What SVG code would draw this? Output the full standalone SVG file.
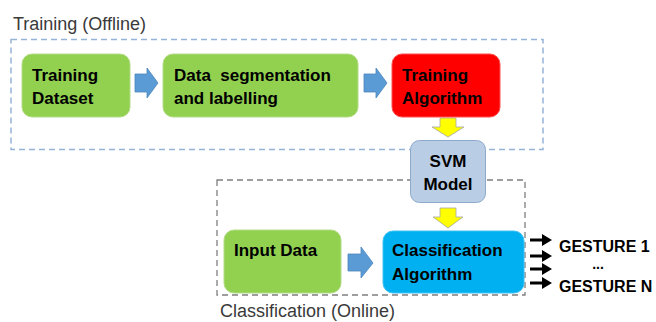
<svg xmlns="http://www.w3.org/2000/svg" width="656" height="322" viewBox="0 0 656 322">
<style>
.lbl{font-family:"Liberation Sans",Arial,sans-serif;font-size:18px;fill:#3a3a3a}
.t{font-family:"Liberation Sans",Arial,sans-serif;font-size:17px;font-weight:bold;fill:#000}
.g{font-size:16px}
.green{fill:#92D050;stroke:#b3dc86;stroke-width:1}
.barrow{fill:#5B9BD5;stroke:#4a86bd;stroke-width:0.8}
.yarrow{fill:#FFFF00;stroke:#a6a6a6;stroke-width:0.8}
.karrow{fill:#000}
</style>
<rect width="656" height="322" fill="#fff"/>
<g id="training-group">
<rect x="11" y="39.5" width="532" height="110" fill="none" stroke="#95B3D7" stroke-width="1.5" stroke-dasharray="6,4"/>
<text class="lbl" x="13" y="30">Training (Offline)</text>
</g>
<g id="classification-group">
<rect x="217" y="180" width="308" height="115" fill="none" stroke="#7f7f7f" stroke-width="1.3" stroke-dasharray="6,4"/>
<text class="lbl" x="220" y="317">Classification (Online)</text>
</g>
<g id="connectors">
<polygon class="barrow" points="135,74 147,74 147,68 158,83 147,98 147,92 135,92"/>
<polygon class="barrow" points="364,74 376,74 376,68 387,83 376,98 376,92 364,92"/>
<polygon class="barrow" points="348,254 361,254 361,247 373,263 361,278 361,271 348,271"/>
<polygon class="yarrow" points="440,118 456,118 456,127 464,127 448,137 432,127 440,127"/>
<polygon class="yarrow" points="440,208 456,208 456,217 463,217 448,228 433,217 440,217"/>
<polygon class="karrow" points="530,238.5 542,238.5 542,234 552,240 542,246 542,241.5 530,241.5"/>
<polygon class="karrow" points="530,254.5 542,254.5 542,250 552,256 542,262 542,257.5 530,257.5"/>
<polygon class="karrow" points="530,267.5 542,267.5 542,263 552,269 542,275 542,270.5 530,270.5"/>
<polygon class="karrow" points="530,281.5 542,281.5 542,277 552,283 542,289 542,284.5 530,284.5"/>
</g>
<g id="training-dataset">
<rect class="green" x="22" y="54" width="108" height="63" rx="10"/>
<text class="t" x="32" y="81">Training</text>
<text class="t" x="32" y="104">Dataset</text>
</g>
<g id="data-segmentation">
<rect class="green" x="163" y="54" width="195" height="63" rx="10"/>
<text class="t" x="174" y="81" xml:space="preserve">Data  segmentation</text>
<text class="t" x="174" y="104">and labelling</text>
</g>
<g id="training-algorithm">
<rect x="392" y="54" width="108" height="63" rx="10" fill="#FF0000" stroke="#ff5050" stroke-width="1"/>
<text class="t" x="402" y="81">Training</text>
<text class="t" x="402" y="104">Algorithm</text>
</g>
<g id="svm-model">
<rect x="410.5" y="140.5" width="75" height="62" rx="9" fill="#B9CDE5" stroke="#8eaacb" stroke-width="1"/>
<text class="t" x="448" y="167" text-anchor="middle">SVM</text>
<text class="t" x="448" y="190" text-anchor="middle">Model</text>
</g>
<g id="input-data">
<rect class="green" x="224" y="230" width="117" height="63" rx="10"/>
<text class="t" x="234" y="256">Input Data</text>
</g>
<g id="classification-algorithm">
<rect x="383" y="231" width="141" height="62" rx="10" fill="#00B0F0" stroke="#3cc2f2" stroke-width="1"/>
<text class="t" x="392" y="256">Classification</text>
<text class="t" x="392" y="280">Algorithm</text>
</g>
<g id="gestures">
<text class="t g" x="559" y="252">GESTURE 1</text>
<text class="t" x="598" y="269" text-anchor="middle" style="font-size:14px">...</text>
<text class="t g" x="559" y="292">GESTURE N</text>
</g>
</svg>
